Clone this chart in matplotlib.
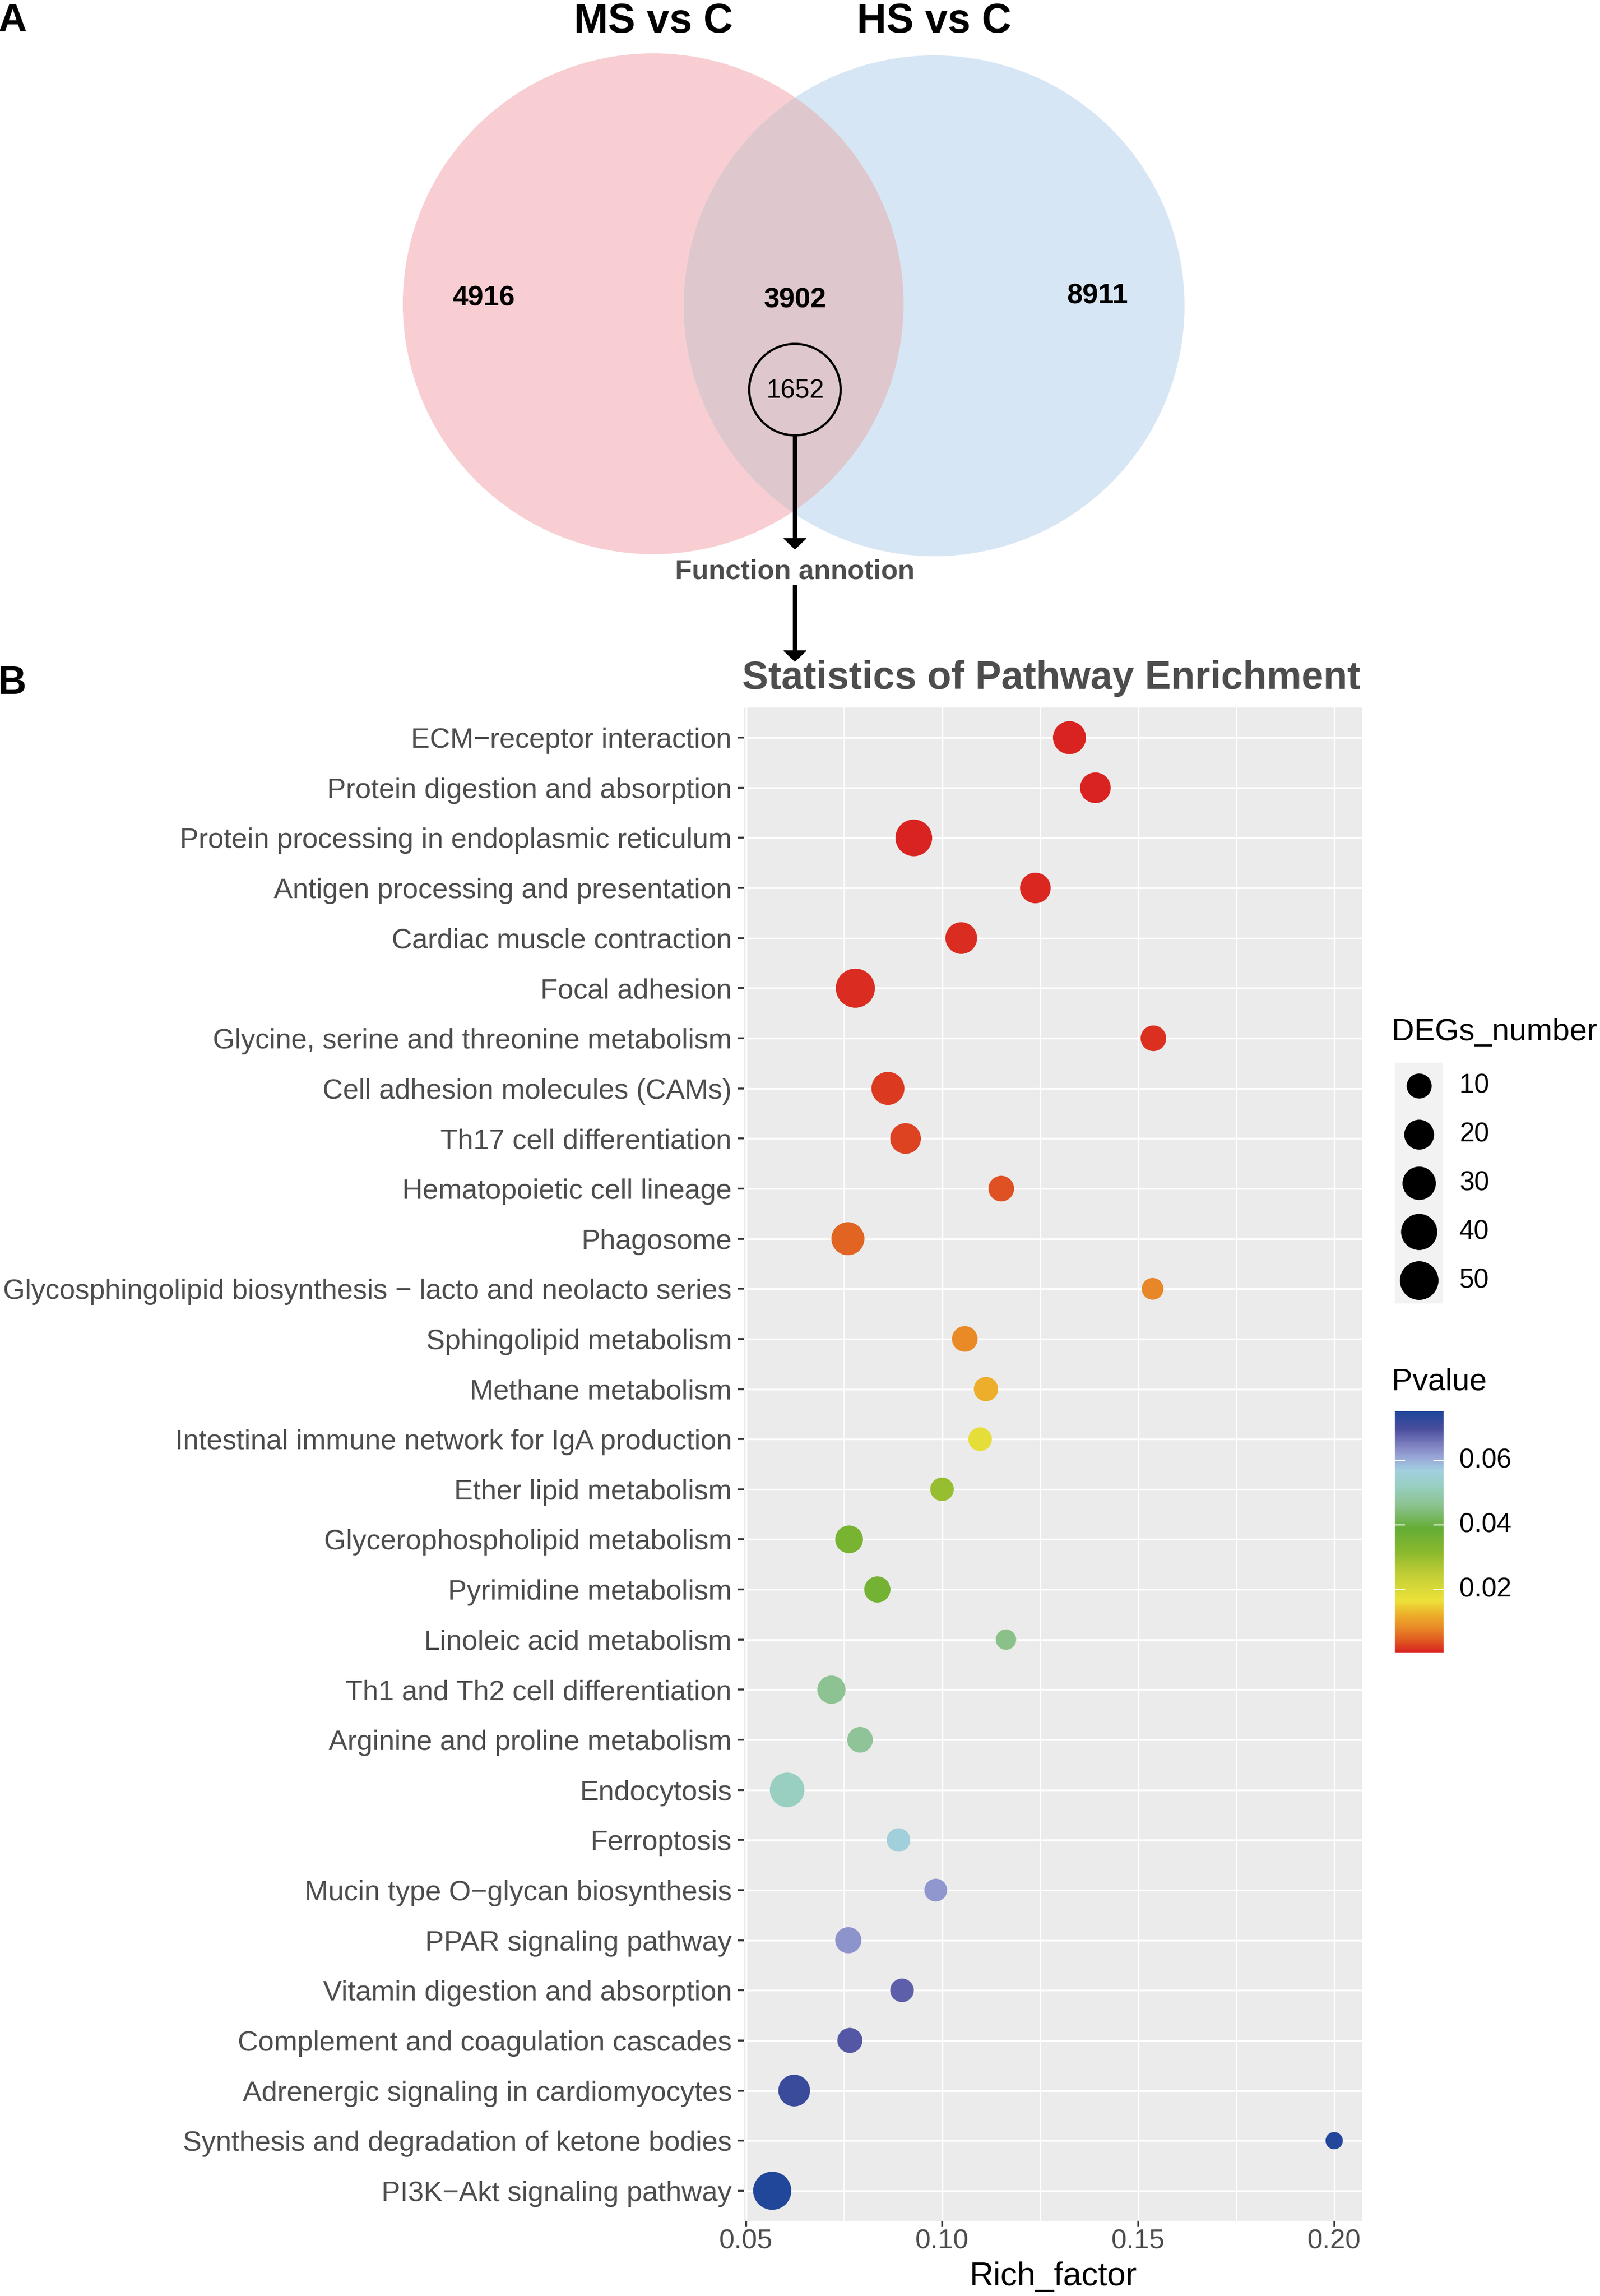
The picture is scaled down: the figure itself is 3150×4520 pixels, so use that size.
import matplotlib
matplotlib.use('Agg')
import matplotlib.pyplot as plt
import matplotlib.patches as patches
from matplotlib.colors import LinearSegmentedColormap, Normalize
import numpy as np

plt.rcParams['font.family'] = ['Liberation Sans', 'DejaVu Sans']

W, H, DPI = 3150, 4520, 100
GREY_TXT = '#4D4D4D'

# ---------------- data ----------------
venn_sets = ['MS vs C', 'HS vs C']
venn_counts = [4916, 3902, 8911]      # MS only, shared, HS only
venn_selected = 1652

pathways = [
    'ECM\u2212receptor interaction',
    'Protein digestion and absorption',
    'Protein processing in endoplasmic reticulum',
    'Antigen processing and presentation',
    'Cardiac muscle contraction',
    'Focal adhesion',
    'Glycine, serine and threonine metabolism',
    'Cell adhesion molecules (CAMs)',
    'Th17 cell differentiation',
    'Hematopoietic cell lineage',
    'Phagosome',
    'Glycosphingolipid biosynthesis \u2212 lacto and neolacto series',
    'Sphingolipid metabolism',
    'Methane metabolism',
    'Intestinal immune network for IgA production',
    'Ether lipid metabolism',
    'Glycerophospholipid metabolism',
    'Pyrimidine metabolism',
    'Linoleic acid metabolism',
    'Th1 and Th2 cell differentiation',
    'Arginine and proline metabolism',
    'Endocytosis',
    'Ferroptosis',
    'Mucin type O\u2212glycan biosynthesis',
    'PPAR signaling pathway',
    'Vitamin digestion and absorption',
    'Complement and coagulation cascades',
    'Adrenergic signaling in cardiomyocytes',
    'Synthesis and degradation of ketone bodies',
    'PI3K\u2212Akt signaling pathway',
]
rich_factor = [0.1325, 0.1391, 0.0928, 0.1238, 0.1049, 0.0779, 0.1539, 0.0862,
               0.0907, 0.1151, 0.0760, 0.1537, 0.1058, 0.1112, 0.1097, 0.1000,
               0.0763, 0.0835, 0.1163, 0.0718, 0.0791, 0.0605, 0.0889, 0.0984,
               0.0761, 0.0898, 0.0765, 0.0623, 0.2000, 0.0567]
degs_number = [29, 22, 42, 22, 25, 52, 11, 29, 22, 11, 29, 6, 11, 9, 8, 8,
               15, 12, 5, 16, 11, 34, 8, 7, 12, 8, 10, 25, 4, 48]
pvalue = [0.0004, 0.0005, 0.0006, 0.0008, 0.0010, 0.0012, 0.0015, 0.0020,
          0.0025, 0.0035, 0.0050, 0.0080, 0.0082, 0.0120, 0.0180, 0.0300,
          0.0350, 0.0360, 0.0455, 0.0465, 0.0470, 0.0520, 0.0565, 0.0625,
          0.0630, 0.0680, 0.0690, 0.0720, 0.0748, 0.0753]

size_breaks = [10, 20, 30, 40, 50]
p_breaks = [0.02, 0.04, 0.06]
x_major = [0.05, 0.10, 0.15, 0.20]
x_minor = [0.075, 0.125, 0.175]

# ---------------- scales ----------------
pmin, pmax = min(pvalue), max(pvalue)
stops = [(0.0004, '#D92320'), (0.004, '#E05A22'), (0.008, '#E98A27'),
         (0.012, '#EDAF2B'), (0.0165, '#EDE23A'), (0.025, '#BFCD36'),
         (0.032, '#88B82E'), (0.039, '#64AD36'), (0.046, '#8CC28E'),
         (0.052, '#98CFC0'), (0.057, '#A2D0DF'), (0.061, '#9AA8D8'),
         (0.065, '#7F80C0'), (0.070, '#4A4E9E'), (0.0753, '#21479A')]
cmap = LinearSegmentedColormap.from_list(
    'pv', [((p - pmin) / (pmax - pmin), c) for p, c in stops])
norm = Normalize(pmin, pmax)

vmin, vmax = min(degs_number), max(degs_number)
DMIN, DMAX = 34, 77   # point diameter range in pixels


def diam(v):
    v = np.asarray(v, dtype=float)
    return DMIN + (DMAX - DMIN) * np.sqrt(np.clip((v - vmin) / (vmax - vmin), 0, 1))


def area(v):
    return (diam(v) * 72 / DPI) ** 2


fig = plt.figure(figsize=(W / DPI, H / DPI), dpi=DPI, facecolor='white')

# ---------------- panel B: bubble plot ----------------
px_l, px_r, px_t, px_b = 1465, 2682, 1393, 4372
ax = fig.add_axes([px_l / W, 1 - px_b / H, (px_r - px_l) / W, (px_b - px_t) / H])
ax.set_facecolor('#EBEBEB')
n = len(pathways)
ypos = np.arange(n)[::-1]
ax.scatter(rich_factor, ypos, s=area(degs_number), c=pvalue, cmap=cmap, norm=norm,
           linewidths=0, zorder=3)
span = max(rich_factor) - min(rich_factor)
ax.set_xlim(min(rich_factor) - 0.05 * span, max(rich_factor) + 0.05 * span)
ax.set_ylim(-0.6, n - 1 + 0.6)
ax.set_yticks(ypos)
ax.set_yticklabels(pathways)
ax.set_xticks(x_major)
ax.set_xticklabels([f'{v:.2f}' for v in x_major])
ax.set_xticks(x_minor, minor=True)
ax.grid(True, which='major', color='white', lw=2.4)
ax.grid(True, which='minor', axis='x', color='white', lw=1.6)
ax.set_axisbelow(True)
for s in ax.spines.values():
    s.set_visible(False)
ax.tick_params(axis='both', which='major', colors='#333333', length=8.5, width=2.6,
               labelsize=39, labelcolor=GREY_TXT)
ax.tick_params(axis='y', pad=9, labelsize=40)
ax.tick_params(axis='x', pad=3)
ax.tick_params(axis='x', which='minor', length=0)
ax.set_xlabel('Rich_factor', fontsize=47, color='black', labelpad=10)

# ---------------- overlay in pixel coordinates ----------------
ov = fig.add_axes([0, 0, 1, 1])
ov.set_xlim(0, W)
ov.set_ylim(H, 0)
ov.axis('off')

# Venn
c_ms, c_hs, r = (1286, 598), (1839, 602), 493
ov.add_patch(patches.Circle(c_ms, r, fc='#F8CED2', ec='none'))
ov.add_patch(patches.Circle(c_hs, r, fc='#D7E6F4', ec='none'))
clip = patches.Circle(c_hs, r, transform=ov.transData)
over = patches.Circle(c_ms, r, fc='#DEC8CD', ec='none')
ov.add_patch(over)
over.set_clip_path(clip)

ov.text(c_ms[0], 43, venn_sets[0], fontsize=58, fontweight='bold', ha='center', va='center')
ov.text(c_hs[0], 43, venn_sets[1], fontsize=58, fontweight='bold', ha='center', va='center')
for xx, yy, val in zip([952, 1565, 2160], [587, 592, 583], venn_counts):
    ov.text(xx, yy, str(val), fontsize=40, fontweight='bold', ha='center', va='center')

cx = 1565
ov.add_patch(patches.Circle((cx, 767), 90, fc='none', ec='black', lw=3.2))
ov.text(cx, 770, str(venn_selected), fontsize=37, ha='center', va='center')

def arrow(y0, y1):
    ov.plot([cx, cx], [y0, y1 - 15], color='black', lw=6, solid_capstyle='butt')
    ov.add_patch(patches.Polygon([(cx - 22, y1 - 21), (cx + 22, y1 - 21), (cx, y1)],
                                 closed=True, fc='black', ec='black', lw=1))

arrow(857, 1081)
ov.text(cx, 1125, 'Function annotion', fontsize=39, fontweight='bold', color=GREY_TXT,
        ha='center', va='center')
arrow(1152, 1302)

ov.text(-4, 41, 'A', fontsize=56, fontweight='bold', ha='left', va='center')
ov.text(-4, 1345, 'B', fontsize=56, fontweight='bold', ha='left', va='center')
ov.text((px_l + px_r) / 2 - 4, 1335, 'Statistics of Pathway Enrichment', fontsize=55.5,
        fontweight='bold', color=GREY_TXT, ha='center', va='center')

# size legend
lx = 2740
ov.text(lx, 2032, 'DEGs_number', fontsize=44, ha='left', va='center')
ov.add_patch(patches.Rectangle((2746, 2092), 95, 474, fc='#F2F2F2', ec='none'))
ly = 2138 + 95.75 * np.arange(len(size_breaks))
ov.scatter([2794] * len(size_breaks), ly, s=area(size_breaks), c='black', linewidths=0,
           zorder=3)
for yy, v in zip(ly, size_breaks):
    ov.text(2873, yy, str(v), fontsize=38, ha='left', va='center')

# colour legend
ov.text(lx, 2721, 'Pvalue', fontsize=44, ha='left', va='center')
cb_l, cb_r, cb_t, cb_b = 2746, 2842, 2778, 3254
grad = np.linspace(pmax, pmin, 300).reshape(-1, 1)
ov.imshow(grad, cmap=cmap, norm=norm, extent=(cb_l, cb_r, cb_b, cb_t), origin='upper',
          aspect='auto', interpolation='bilinear')
for p in p_breaks:
    yy = cb_b - (p - pmin) / (pmax - pmin) * (cb_b - cb_t)
    ov.plot([cb_l, cb_l + 19], [yy, yy], color='white', lw=1.6)
    ov.plot([cb_r - 19, cb_r], [yy, yy], color='white', lw=1.6)
    ov.text(2873, yy, f'{p:.2f}', fontsize=38, ha='left', va='center')

ov.set_xlim(0, W)
ov.set_ylim(H, 0)

fig.savefig('out.png', dpi=DPI, facecolor='white')
